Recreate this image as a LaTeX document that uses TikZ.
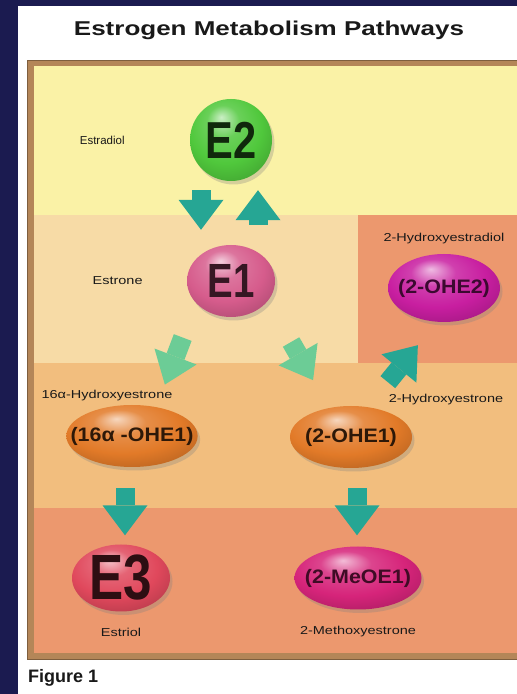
\documentclass[tikz,border=0pt]{standalone}
\usepackage{fontspec}
\setmainfont{Liberation Sans}
\newfontfamily\wideFont[FakeStretch=1.26]{Liberation Sans}
\newfontfamily\titleFont[FakeStretch=1.3]{Liberation Sans}
\newfontfamily\tallFont[FakeStretch=0.8]{Liberation Sans}
\newfontfamily\pillFont[FakeStretch=1.1]{Liberation Sans}
\usepackage{tikz}
\usetikzlibrary{shapes.geometric, arrows.meta, positioning, shadows}
\definecolor{cNavy}{RGB}{27,27,80}
\definecolor{cFrame}{RGB}{180,134,88}
\definecolor{cYellow}{RGB}{250,242,166}
\definecolor{cPeach}{RGB}{247,219,166}
\definecolor{cTan}{RGB}{242,190,126}
\definecolor{cSalmon}{RGB}{236,152,110}
\definecolor{cTeal}{RGB}{38,166,148}
\definecolor{cMint}{RGB}{108,204,150}
\definecolor{cGreen}{RGB}{80,200,60}
\definecolor{cRose}{RGB}{214,92,140}
\definecolor{cMagenta}{RGB}{200,30,160}
\definecolor{cOrange}{RGB}{226,122,40}
\definecolor{cRed}{RGB}{224,72,92}
\definecolor{cBerry}{RGB}{214,36,122}
\makeatletter
\pgfdeclareradialshading[tikz@ball]{pillball}{\pgfpoint{-6bp}{14bp}}{%
	color(0bp)=(tikz@ball!30!white); color(10bp)=(tikz@ball!85!white);
	color(22bp)=(tikz@ball); color(32bp)=(tikz@ball!85!black);
	color(44bp)=(tikz@ball!65!black); color(50bp)=(tikz@ball!55!black)}
\makeatother
\tikzset{
	pill/.style     ={ellipse, inner sep=0pt, ball color=#1, shading=pillball, drop shadow={shadow xshift=2.5pt, shadow yshift=-3.5pt, opacity=0.3}},
	bigtxt/.style   ={font=\tallFont\bfseries\fontsize{52}{52}\selectfont},
	smalltxt/.style ={font=\pillFont\bfseries\fontsize{19.5}{22}\selectfont, inner xsep=-15pt},
	lbl/.style      ={font=\wideFont\fontsize{11.5}{13}\selectfont, text=black!90, inner sep=0pt},
	bigarrow/.style ={line width=19pt, -{Triangle[width=45pt,length=30pt,line width=0pt]}, draw=cTeal},
	mintarrow/.style={bigarrow, draw=cMint},
}

\begin{document}
\begin{tikzpicture}[x=1pt, y=1pt]
	\useasboundingbox (0,0) rectangle (517,694);
	\fill[cNavy] (0,0) rectangle (517,694);
	\fill[white] (18,0) rectangle (517,688);
	\fill[cFrame] (27,34) rectangle (530,634);
	\draw[cFrame!70!black, line width=1pt] (27.5,34.5) rectangle (530,633.5);
	\fill[cYellow] (34,479) rectangle (530,628);
	\fill[cPeach] (34,331) rectangle (358,479);
	\fill[cSalmon] (358,331) rectangle (530,479);
	\fill[cTan] (34,186) rectangle (530,331);
	\fill[cSalmon] (34,41) rectangle (530,186);
	\node[font=\titleFont\bfseries\fontsize{20}{24}\selectfont, text=black!90] (title) at (269,664) {Estrogen Metabolism Pathways};
	\node[anchor=west, inner sep=0pt, font=\bfseries\fontsize{18}{20}\selectfont, text=black!90] (fig) at (28,16) {Figure 1};
	\node[pill=cGreen, minimum width=82pt, minimum height=82pt, bigtxt, text=cGreen!20!black] (e2) at (231,554) {E2};
	\node[pill=cRose, minimum width=88pt, minimum height=72pt, bigtxt, font=\tallFont\bfseries\fontsize{48}{48}\selectfont, text=cRose!25!black] (e1) at (231,413) {E1};
	\node[pill=cMagenta, minimum width=112pt, minimum height=68pt, smalltxt, text=cMagenta!30!black] (oheB) at (444,406) {(2-OHE2)};
	\node[pill=cOrange, minimum width=130pt, minimum height=62pt, smalltxt, text=cOrange!20!black] (oheA) at (132,258) {(16α -OHE1)};
	\node[pill=cOrange, minimum width=122pt, minimum height=62pt, smalltxt, text=cOrange!20!black] (ohe1) at (351,257) {(2-OHE1)};
	\node[pill=cRed, minimum width=98pt, minimum height=67pt, bigtxt, font=\tallFont\bfseries\fontsize{64}{64}\selectfont, text=cRed!20!black] (e3) at (121,116) {E3};
	\node[pill=cBerry, minimum width=127pt, minimum height=63pt, smalltxt, text=cBerry!30!black] (meo) at (358,116) {(2-MeOE1)};
	\node[lbl, font=\fontsize{11.5}{13}\selectfont, left=65pt of e2] (estradiol) {Estradiol};
	\node[lbl, left=44pt of e1] (estrone) {Estrone};
	\node[lbl, above=10pt of oheB] (hestradiol) {2-Hydroxyestradiol};
	\node[lbl, above=4pt of oheA, xshift=-25pt] (hestroneA) {16α-Hydroxyestrone};
	\node[lbl] (hestrone) at (446,294) {2-Hydroxyestrone};
	\node[lbl, below=16pt of e3] (estriol) {Estriol};
	\node[lbl, below=16pt of meo] (mestrone) {2-Methoxyestrone};
	\draw[bigarrow, shorten <=9pt, shorten >=15pt] ([xshift=-30pt]e2.south) -- ([xshift=-30pt]e1.north);
	\draw[bigarrow, shorten <=20pt, shorten >=9pt] ([xshift=27pt]e1.north) -- ([xshift=27pt]e2.south);
	\draw[mintarrow, shorten <=37pt, shorten >=24pt] (e1.212) -- (oheA.50);
	\draw[mintarrow, shorten <=47pt, shorten >=32pt] (e1.331) -- (ohe1.127);
	\draw[bigarrow, shorten <=32pt, shorten >=30pt] (ohe1.61) -- (oheB.258);
	\draw[bigarrow, shorten <=21pt, shorten >=9pt] ([xshift=-7pt]oheA.south) -- ([xshift=4pt]e3.north);
	\draw[bigarrow, shorten <=20pt, shorten >=11pt] ([xshift=6pt]ohe1.south) -- ([xshift=-1pt]meo.north);
\end{tikzpicture}
\end{document}
